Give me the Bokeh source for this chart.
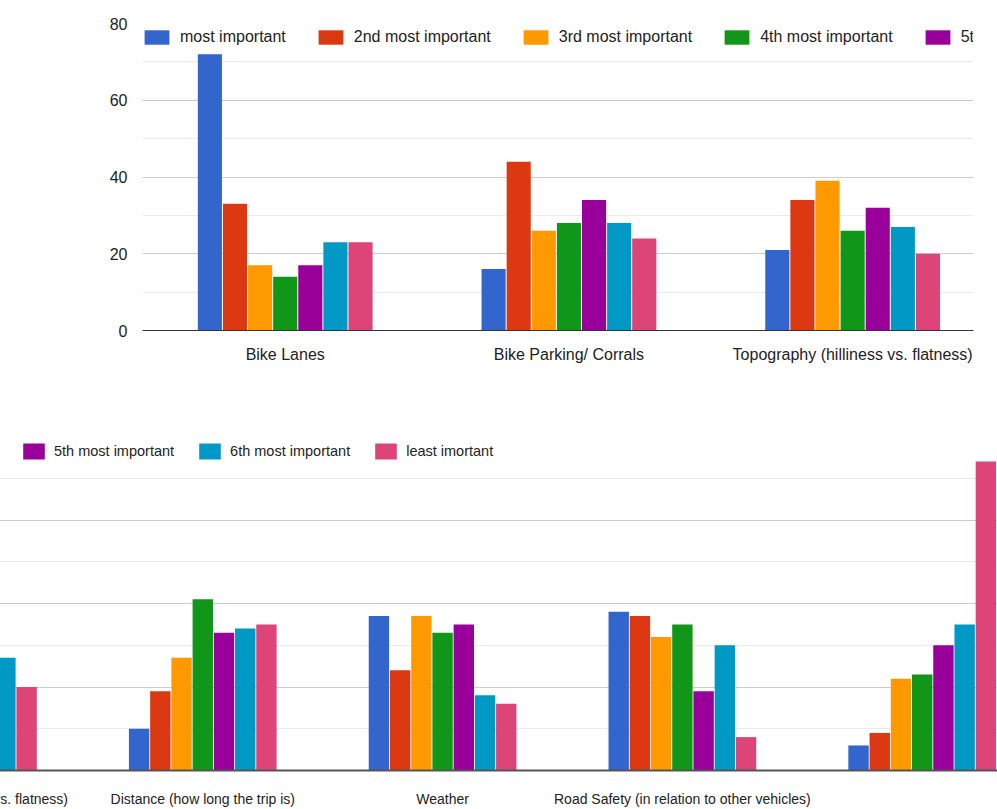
from bokeh.plotting import figure
from bokeh.models import (Range1d, FixedTicker, Legend, LegendItem, ColumnDataSource,
                          CDSView, IndexFilter)
from bokeh.embed import file_html
from bokeh.resources import INLINE
from bokeh.transform import dodge

# ---------------- data ----------------
categories = [
    "Bike Lanes",
    "Bike Parking/ Corrals",
    "Topography (hilliness vs. flatness)",
    "Distance (how long the trip is)",
    "Weather",
    "Road Safety (in relation to other vehicles)",
    "",
]
series_names = [
    "most important",
    "2nd most important",
    "3rd most important",
    "4th most important",
    "5th most important",
    "6th most important",
    "least imortant",
]
most_important = [72, 16, 21, 10, 37, 38, 6]
second_most = [33, 44, 34, 19, 24, 37, 9]
third_most = [17, 26, 39, 27, 37, 32, 22]
fourth_most = [14, 28, 26, 41, 33, 35, 23]
fifth_most = [17, 34, 32, 33, 35, 19, 30]
sixth_most = [23, 28, 27, 34, 18, 30, 35]
least_important = [23, 24, 20, 35, 16, 8, 74]
y_ticks = [0, 20, 40, 60, 80]
y_minor_ticks = [10, 30, 50, 70]

series_values = [most_important, second_most, third_most, fourth_most,
                 fifth_most, sixth_most, least_important]
colors = ["#3366cc", "#dc3912", "#ff9900", "#109618", "#990099", "#0099c6", "#dd4477"]

data = {"idx": list(range(len(categories)))}
for k, vals in enumerate(series_values):
    data[f"s{k}"] = vals
src = ColumnDataSource(data)

FONT = "Liberation Sans"
STEP = 0.0885
BAR_W = 0.085
label_overrides = {i: c for i, c in enumerate(categories) if c}


def add_bars(p, shown):
    rs = []
    view = CDSView(filter=IndexFilter(shown))
    for k in range(len(series_values)):
        r = p.vbar(x=dodge("idx", (k - 3) * STEP, range=p.x_range), top=f"s{k}",
                   width=BAR_W, source=src, view=view,
                   fill_color=colors[k], line_color=None)
        rs.append(r)
    return rs


def style_common(p):
    p.outline_line_color = None
    p.background_fill_color = "white"
    p.border_fill_color = "white"
    p.xgrid.visible = False
    p.ygrid.ticker = FixedTicker(ticks=y_ticks, minor_ticks=y_minor_ticks)
    p.ygrid.grid_line_color = "#cccccc"
    p.ygrid.minor_grid_line_color = "#ebebeb"
    p.xaxis.ticker = FixedTicker(ticks=list(label_overrides.keys()))
    p.xaxis.major_label_overrides = label_overrides
    p.xaxis.major_tick_line_color = None
    p.xaxis.minor_tick_line_color = None
    p.xaxis.major_label_text_font = FONT
    p.xaxis.major_label_text_color = "#222222"


# ---------------- top panel (first three categories) ----------------
p1 = figure(width=997, height=390, output_backend="svg", toolbar_location=None,
            x_range=Range1d(-0.503, 2.426), y_range=Range1d(0, 80),
            min_border_left=142, min_border_right=24, min_border_top=23, min_border_bottom=60)
style_common(p1)
r1 = add_bars(p1, [0, 1, 2])
p1.xaxis.axis_line_color = "#333333"
p1.xaxis.major_label_text_font_size = "16px"
p1.xaxis.major_label_standoff = 9
p1.yaxis.ticker = FixedTicker(ticks=y_ticks)
p1.yaxis.axis_line_color = None
p1.yaxis.major_tick_line_color = None
p1.yaxis.minor_tick_line_color = None
p1.yaxis.major_label_text_font = FONT
p1.yaxis.major_label_text_font_size = "16px"
p1.yaxis.major_label_text_color = "#222222"
p1.yaxis.major_label_standoff = 9

leg1 = Legend(items=[LegendItem(label=series_names[k], renderers=[r1[k]]) for k in range(7)],
              orientation="horizontal", location=(-1, 284),
              glyph_width=31, glyph_height=18, label_standoff=8, spacing=29,
              padding=0, margin=0, border_line_color=None, background_fill_alpha=0,
              label_text_font=FONT, label_text_font_size="16px", label_text_color="#222222")
p1.add_layout(leg1)

# ---------------- bottom panel (scrolled view, starts off-screen to the left) ----------------
SHIFT = 150
p2 = figure(width=997 + SHIFT, height=419, output_backend="svg", toolbar_location=None,
            x_range=Range1d(1.531, 6.314), y_range=Range1d(0, 80),
            min_border_left=0, min_border_right=0, min_border_top=46, min_border_bottom=37,
            styles={"margin-left": f"-{SHIFT}px"})
style_common(p2)
r2 = add_bars(p2, [2, 3, 4, 5, 6])
p2.yaxis.visible = False
p2.xaxis.axis_line_color = "#555555"
p2.xaxis.axis_line_width = 2
p2.xaxis.major_label_text_font_size = "14px"
p2.xaxis.major_label_standoff = 14

leg2 = Legend(items=[LegendItem(label=series_names[k], renderers=[r2[k]]) for k in range(4, 7)],
              orientation="horizontal", location=(12 + SHIFT + 8, 309),
              glyph_width=27, glyph_height=20, label_standoff=7, spacing=22,
              padding=0, margin=0, border_line_color=None, background_fill_alpha=0,
              label_text_font=FONT, label_text_font_size="14.5px", label_text_color="#222222")
p2.add_layout(leg2)

open("out.html", "w").write(file_html([p1, p2], INLINE))
